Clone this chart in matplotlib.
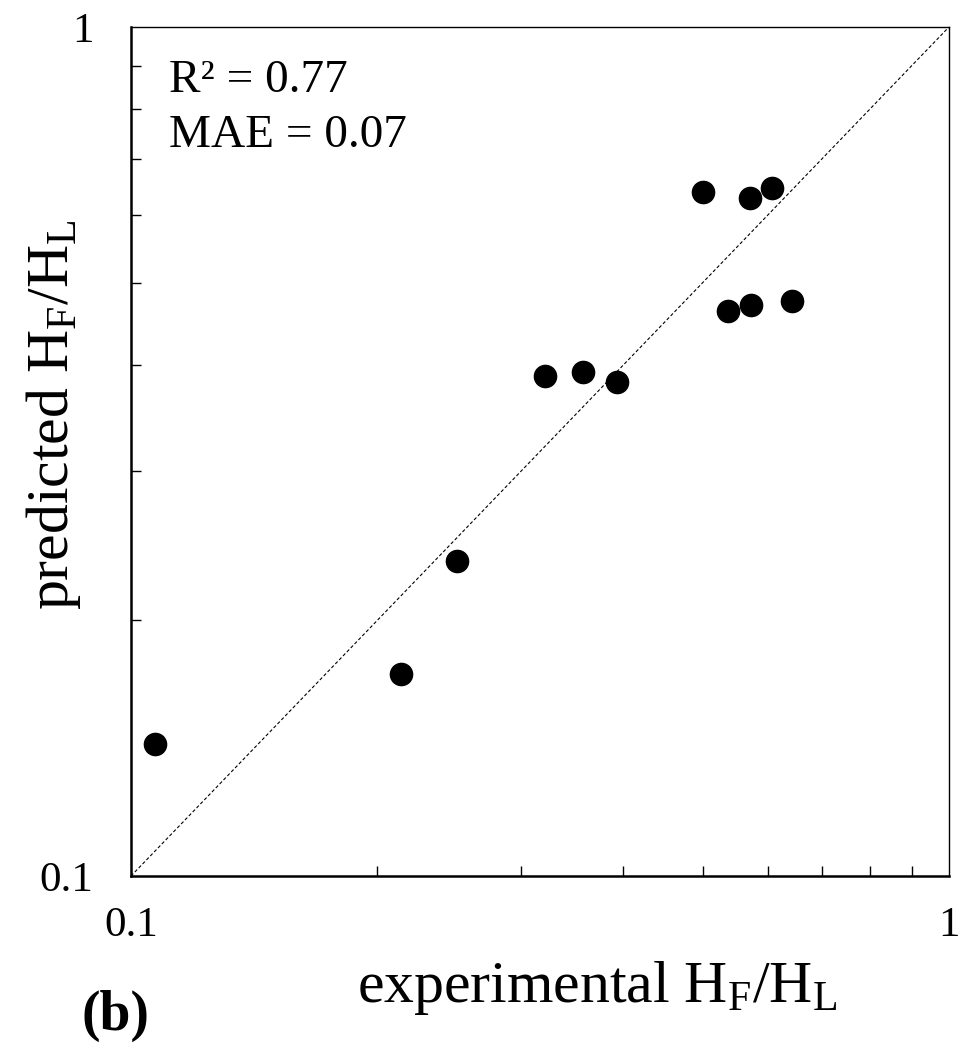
import matplotlib
matplotlib.use("Agg")
import matplotlib.pyplot as plt
from matplotlib.ticker import LogLocator, FixedLocator, FixedFormatter, NullFormatter

plt.rcParams['font.family'] = ['Liberation Serif', 'DejaVu Serif']
plt.rcParams['mathtext.fontset'] = 'custom'
plt.rcParams['mathtext.rm'] = 'Liberation Serif'
plt.rcParams['mathtext.it'] = 'Liberation Serif:italic'
plt.rcParams['mathtext.bf'] = 'Liberation Serif:bold'

# experimental vs predicted H_F/H_L
experimental = [0.107, 0.214, 0.250, 0.321, 0.357, 0.393, 0.500, 0.571, 0.607, 0.537, 0.573, 0.643]
predicted = [0.143, 0.173, 0.235, 0.388, 0.392, 0.382, 0.639, 0.629, 0.646, 0.463, 0.471, 0.476]
diag = [0.1, 1.0]
stats_text = "R\u00b2 = 0.77\nMAE = 0.07"

fig = plt.figure(figsize=(9.59, 10.43), dpi=100)
ax = fig.add_axes([131/959, 1 - 876/1043, 818/959, 849/1043])

ax.plot(diag, diag, linestyle=(0, (3, 2)), color='black', linewidth=0.8)
ax.plot(experimental, predicted, 'o', color='black', markersize=16, linestyle='none')

ax.set_xscale('log')
ax.set_yscale('log')
ax.set_xlim(0.1, 1)
ax.set_ylim(0.1, 1)

for a in (ax.xaxis, ax.yaxis):
    a.set_major_locator(FixedLocator([0.1, 1]))
    a.set_major_formatter(FixedFormatter(['0.1', '1']))
    a.set_minor_locator(LogLocator(base=10, subs=range(2, 10)))
    a.set_minor_formatter(NullFormatter())

ax.tick_params(which='major', length=0, labelsize=31)
ax.tick_params(axis='x', which='major', pad=22)
ax.tick_params(axis='y', which='major', pad=27)
ax.tick_params(which='minor', direction='in', length=7, width=1.0)

ax.spines['left'].set_linewidth(1.8)
ax.spines['bottom'].set_linewidth(1.8)
ax.spines['top'].set_linewidth(1.0)
ax.spines['right'].set_linewidth(1.0)

ax.text(0.047, 0.962, stats_text, transform=ax.transAxes, fontsize=34,
        va='top', ha='left', linespacing=1.4)

fig.text(357/959, 1 - 1002/1043, r'experimental H$_\mathregular{F}$/H$_\mathregular{L}$',
         fontsize=43, ha='left', va='baseline')
fig.text(24/959, 1 - 415/1043, r'predicted H$_\mathregular{F}$/H$_\mathregular{L}$',
         fontsize=43, rotation=90, ha='left', va='center')
fig.text(82/959, 1 - 1030/1043, '(b)', fontsize=40, fontweight='bold',
         ha='left', va='baseline')

fig.savefig('out.png', dpi=100)
